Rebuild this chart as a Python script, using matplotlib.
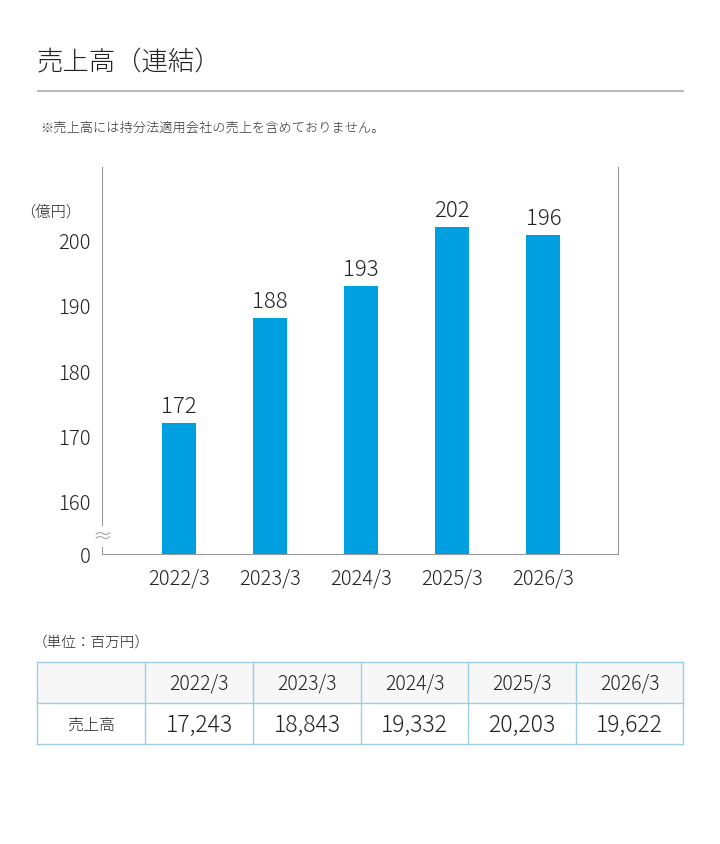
import matplotlib
matplotlib.use("Agg")
import matplotlib.pyplot as plt
from matplotlib.patches import Rectangle
from matplotlib.lines import Line2D

plt.rcParams["font.family"] = ["Noto Sans CJK JP", "DejaVu Sans"]
plt.rcParams["font.weight"] = "light"

years = ["2022/3", "2023/3", "2024/3", "2025/3", "2026/3"]
bar_labels = [172, 188, 193, 202, 196]
# bar heights as drawn in the picture (the last bar is drawn taller than its label)
bar_heights = [172, 188, 193, 202, 200.8]
sales_mil = ["17,243", "18,843", "19,332", "20,203", "19,622"]
yticks = [160, 170, 180, 190, 200]

W, H = 720, 845
fig = plt.figure(figsize=(W / 100, H / 100), dpi=100)

def fx(px):
    return px / W

def fy(py):
    return 1 - py / H

# title + rule
fig.text(fx(37), fy(62), "売上高（連結）", fontsize=19, va="center", color="#222222")
fig.add_artist(Line2D([fx(38), fx(683)], [fy(92), fy(92)], color="#bbbbbb", lw=1.5))
fig.text(fx(40), fy(128), "※売上高には持分法適用会社の売上を含めておりません。", fontsize=9.5,
         va="center", color="#333333")

# chart
ax = fig.add_axes([fx(102), fy(555), fx(618) - fx(102), fy(168) - fy(555)])
x = list(range(len(years)))
ax.bar(x, bar_heights, width=0.375, color="#009fe0")
ax.set_xlim(-0.846, 4.82)
ax.set_ylim(151.88, 211.19)
for xi, h, lab in zip(x, bar_heights, bar_labels):
    ax.text(xi, h + 0.9, str(lab), ha="center", va="bottom", fontsize=16, color="#222222")
ax.set_yticks([151.88] + yticks)
ax.set_yticklabels(["0"] + [str(t) for t in yticks])
ax.set_xticks(x)
ax.set_xticklabels(years)
ax.tick_params(length=0, labelsize=14.5, colors="#222222", pad=8)
ax.tick_params(axis="x", pad=10)
for s in ["left", "bottom", "right"]:
    ax.spines[s].set_color("#999999")
ax.spines["top"].set_visible(False)
ax.text(-0.04, 0.885, "（億円）", transform=ax.transAxes, ha="right", va="center",
        fontsize=11, color="#222222")
# axis break mark
ax.text(0.0, 0.045, "≈", transform=ax.transAxes, ha="center", va="center", fontsize=14,
        color="#999999", bbox=dict(fc="white", ec="none", pad=0))

# table
fig.text(fx(33), fy(643), "（単位：百万円）", fontsize=10.5, va="center", color="#222222")
cols = [37, 145, 253, 361, 468, 576, 683]
rows = [663, 704, 745]
border = "#9fcde6"
fig.add_artist(Rectangle((fx(37), fy(704)), fx(683) - fx(37), fy(663) - fy(704),
                         fc="#f7f7f7", ec="none"))
for c in cols:
    fig.add_artist(Line2D([fx(c), fx(c)], [fy(663), fy(745)], color=border, lw=1))
for r in rows:
    fig.add_artist(Line2D([fx(37), fx(683)], [fy(r), fy(r)], color=border, lw=1))
for i, (yr, val) in enumerate(zip(years, sales_mil)):
    cx = fx((cols[i + 1] + cols[i + 2]) / 2)
    fig.text(cx, fy(684), yr, ha="center", va="center", fontsize=14, color="#222222")
    fig.text(cx, fy(725), val, ha="center", va="center", fontsize=16.5, color="#222222")
fig.text(fx((cols[0] + cols[1]) / 2), fy(725), "売上高", ha="center", va="center",
         fontsize=11.5, color="#222222")

fig.savefig("out.png", dpi=100)
